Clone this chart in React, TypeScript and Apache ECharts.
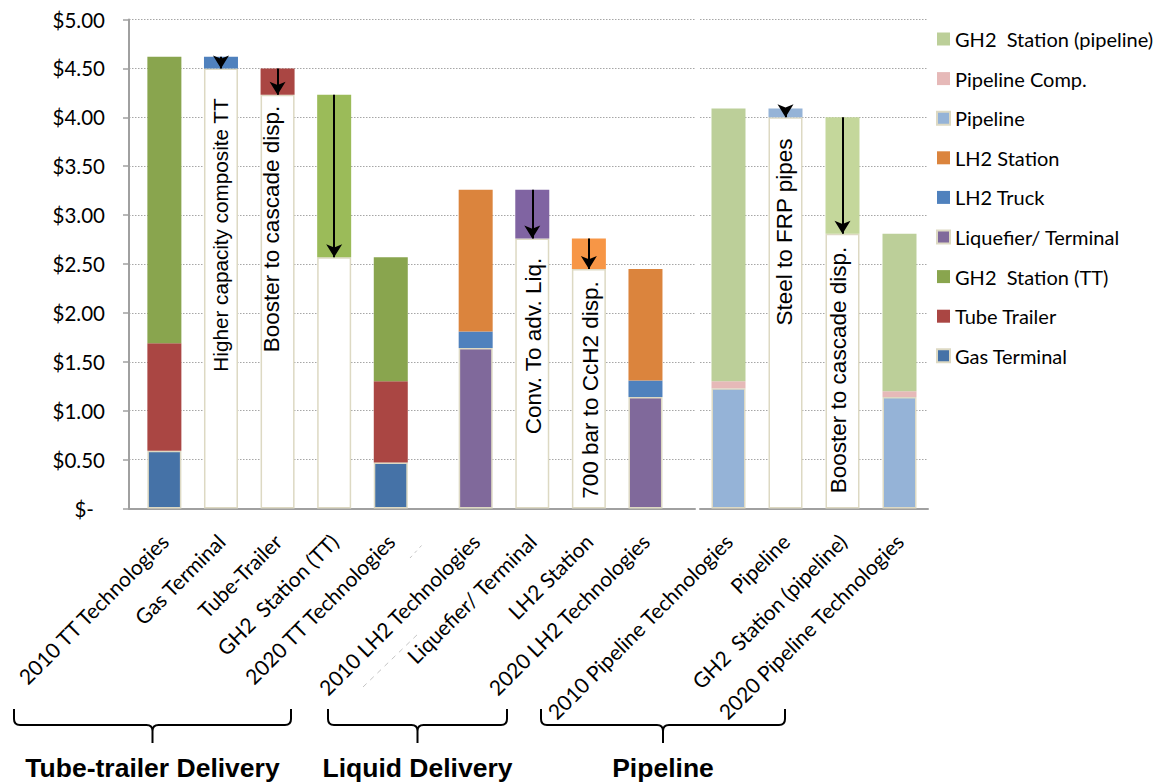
import React, { useEffect, useRef } from 'react';
import * as echarts from 'echarts';

// ---- Tube-trailer delivery ($/kg) ----
const ttCategories = ['2010 TT Technologies', 'Gas Terminal', 'Tube-Trailer', 'GH2  Station (TT)', '2020 TT Technologies'];
const gasTerminal = [0.59, null, null, null, 0.47];
const tubeTrailer = [1.1, null, null, null, 0.83];
const gh2StationTT = [2.93, null, null, null, 1.27];
const ttStepBase = [null, 4.5, 4.23, 2.57, null];
const ttStepDrop = [null, 0.12, 0.27, 1.66, null];

// ---- Liquid delivery ----
const lh2Categories = ['2010 LH2 Technologies', 'Liquefier/ Terminal', 'LH2 Station', '2020 LH2 Technologies'];
const liquefier = [1.64, null, null, 1.14];
const lh2Truck = [0.17, null, null, 0.17];
const lh2Station = [1.45, null, null, 1.14];
const lh2StepBase = [null, 2.76, 2.45, null];
const lh2StepDrop = [null, 0.5, 0.31, null];

// ---- Pipeline delivery ----
const pipeCategories = ['2010 Pipeline Technologies', 'Pipeline', 'GH2  Station (pipeline)', '2020 Pipeline Technologies'];
const pipeline = [1.23, null, null, 1.14];
const pipelineComp = [0.07, null, null, 0.06];
const gh2StationPipe = [2.79, null, null, 1.61];
const pipeStepBase = [null, 4.0, 2.81, null];
const pipeStepDrop = [null, 0.09, 1.19, null];

// cost axis
const Y_MIN = 0;
const Y_MAX = 5;
const Y_STEP = 0.5;

const legendOrder = [
  'GH2  Station (pipeline)',
  'Pipeline Comp.',
  'Pipeline',
  'LH2 Station',
  'LH2 Truck',
  'Liquefier/ Terminal',
  'GH2  Station (TT)',
  'Tube Trailer',
  'Gas Terminal',
];

const SERIES_COLORS: Record<string, string> = {
  'Gas Terminal': '#4572A7',
  'Tube Trailer': '#AA4643',
  'GH2  Station (TT)': '#89A54E',
  'Liquefier/ Terminal': '#80699B',
  'LH2 Truck': '#4F81BD',
  'LH2 Station': '#DB843D',
  Pipeline: '#95B3D7',
  'Pipeline Comp.': '#E6B9B8',
  'GH2  Station (pipeline)': '#BCCF99',
};

const STEP_COLORS: Record<string, string> = {
  'Gas Terminal': '#4F81BD',
  'Tube-Trailer': '#AA4643',
  'GH2  Station (TT)': '#9BBB59',
  'Liquefier/ Terminal': '#8064A2',
  'LH2 Station': '#F79646',
  Pipeline: '#95B3D7',
  'GH2  Station (pipeline)': '#C4D79B',
};

const FONT = 'Lato, "Noto Sans", sans-serif';
const ARIAL = '"Liberation Sans", Arial, sans-serif';
const BEIGE = '#DDD9C3';
const AXIS_GRAY = '#a0a0a0';

// left panel uses narrow slots so the two groups can sit closer than a full bar step
const LEFT_SLOTS = 40;
const SLOT_LEAD = 2;
const SLOT_STEP = 4;
const GROUP_STEP = 6;

function spreadLeft<T>(tt: (T | null)[], lh2: (T | null)[]): (T | null)[] {
  const out: (T | null)[] = new Array(LEFT_SLOTS).fill(null);
  let pos = SLOT_LEAD;
  [tt, lh2].forEach((g) => {
    g.forEach((v, i) => {
      out[pos] = v;
      if (i < g.length - 1) pos += SLOT_STEP;
    });
    pos += GROUP_STEP;
  });
  return out;
}

const blank = (arr: any[]) => arr.map(() => null);
const dash = (arr: any[]) => arr.map((v) => (v == null ? '-' : v));

const leftCats = spreadLeft<string>(ttCategories, lh2Categories).map((c) => c ?? '');
const leftVals = (tt: any[], lh2: any[]) => dash(spreadLeft(tt, lh2));

function bar(name: string, data: any[], axis: number, bordered = false) {
  return {
    type: 'bar',
    name,
    xAxisIndex: axis,
    yAxisIndex: axis,
    stack: 'cost' + axis,
    barWidth: 34,
    silent: true,
    data,
    itemStyle: {
      color: SERIES_COLORS[name],
      borderColor: bordered ? BEIGE : undefined,
      borderWidth: bordered ? 1.5 : 0,
    },
  };
}

function baseSeries(data: any[], axis: number) {
  return {
    type: 'bar',
    name: 'base' + axis,
    xAxisIndex: axis,
    yAxisIndex: axis,
    stack: 'cost' + axis,
    barWidth: 34,
    silent: true,
    data,
    itemStyle: { color: '#ffffff', borderColor: BEIGE, borderWidth: 1.5 },
  };
}

function arrows(cats: string[], base: (number | null)[], drop: (number | null)[]) {
  const out: any[] = [];
  cats.forEach((c, i) => {
    const b = base[i];
    const d = drop[i];
    if (b == null || d == null) return;
    out.push([{ coord: [c, b + d] }, { coord: [c, b] }]);
  });
  return out;
}

function stepSeries(cats: string[], drops: any[], lines: any[], axis: number) {
  return {
    type: 'bar',
    name: 'step' + axis,
    xAxisIndex: axis,
    yAxisIndex: axis,
    stack: 'cost' + axis,
    barWidth: 34,
    silent: true,
    data: drops.map((v, i) =>
      v === '-' ? '-' : { value: v, itemStyle: { color: STEP_COLORS[cats[i]] } }
    ),
    markLine: {
      silent: true,
      symbol: ['none', 'arrow'],
      symbolSize: [12, 13],
      label: { show: false },
      lineStyle: { color: '#000', width: 2, type: 'solid' },
      emphasis: { disabled: true },
      data: lines,
    },
  };
}

const xAxisBase = {
  type: 'category',
  axisTick: { show: false },
  axisLine: { lineStyle: { color: AXIS_GRAY, width: 2 } },
  axisLabel: {
    interval: 0,
    rotate: 45,
    margin: 29,
    color: '#000',
    fontFamily: FONT,
    fontSize: 21,
  },
};

const yAxisBase = {
  type: 'value',
  min: Y_MIN,
  max: Y_MAX,
  interval: Y_STEP,
  splitLine: { show: true, lineStyle: { color: '#a6a6a6', type: [1.5, 1.5], width: 1 } },
};

// brace outline: ends drop to a rounded corner, centre has a short stem
function bracePath(w: number) {
  const h = 16;
  const r = 6;
  const m = w / 2;
  return (
    `M0 0 L0 ${h - r} Q0 ${h} ${r} ${h} L${m - r} ${h} Q${m} ${h} ${m} ${h + r} L${m} ${h + 18} ` +
    `M${m} ${h + r} Q${m} ${h} ${m + r} ${h} L${w - r} ${h} Q${w} ${h} ${w} ${h - r} L${w} 0`
  );
}
const BRACES = [
  { name: 'braceTT', x: 14, w: 277, title: 'Tube-trailer Delivery' },
  { name: 'braceLiq', x: 328, w: 179, title: 'Liquid Delivery' },
  { name: 'bracePipe', x: 541, w: 244, title: 'Pipeline' },
];
BRACES.forEach((b) => {
  echarts.graphic.registerShape(b.name, (echarts.graphic as any).extendPath(bracePath(b.w), {}));
});

const NOTES = [
  { text: 'Higher capacity composite TT', x: 220.5, y: 235, size: 20.7 },
  { text: 'Booster to cascade disp.', x: 271, y: 229, size: 22.5 },
  { text: 'Conv. To adv. Liq.', x: 533, y: 346, size: 22.5 },
  { text: '700 bar to CcH2 disp.', x: 590.5, y: 390, size: 22.5 },
  { text: 'Steel to FRP pipes', x: 784, y: 232, size: 22.5 },
  { text: 'Booster to cascade disp.', x: 838, y: 370, size: 22.5 },
];

function buildOption() {
  const graphics: any[] = [];
  NOTES.forEach((n) => {
    graphics.push({
      type: 'text',
      x: n.x,
      y: n.y,
      rotation: Math.PI / 2,
      silent: true,
      z: 100,
      style: {
        text: n.text,
        fill: '#000',
        font: `${n.size}px ${ARIAL}`,
        textAlign: 'center',
        textVerticalAlign: 'middle',
        align: 'center',
        verticalAlign: 'middle',
      },
    });
  });
  BRACES.forEach((b) => {
    graphics.push({
      type: b.name,
      x: b.x,
      y: 709,
      silent: true,
      style: { stroke: '#000', lineWidth: 2, fill: 'none' },
    });
    graphics.push({
      type: 'text',
      x: b.x + b.w / 2,
      y: 768,
      silent: true,
      style: {
        text: b.title,
        fill: '#000',
        font: `bold 26.5px ${ARIAL}`,
        textAlign: 'center',
        textVerticalAlign: 'middle',
        align: 'center',
        verticalAlign: 'middle',
      },
    });
  });
  // faint leftover marks under the empty gap between the first two groups
  graphics.push({
    type: 'line',
    silent: true,
    shape: { x1: 363, y1: 687, x2: 420, y2: 632 },
    style: { stroke: '#c4c4c4', lineWidth: 1, lineDash: [5, 5] },
  });
  graphics.push({
    type: 'line',
    silent: true,
    shape: { x1: 410, y1: 558, x2: 422, y2: 545 },
    style: { stroke: '#c4c4c4', lineWidth: 1, lineDash: [3, 4] },
  });

  return {
    animation: false,
    backgroundColor: '#ffffff',
    grid: [
      { left: 129, top: 19.5, width: 566, height: 489 },
      { left: 700, top: 19.5, width: 228, height: 489 },
    ],
    legend: {
      orient: 'vertical',
      left: 931,
      top: 24,
      itemWidth: 13,
      itemHeight: 13,
      itemGap: 19.6,
      icon: 'rect',
      selectedMode: false,
      data: legendOrder,
      textStyle: { color: '#000', fontFamily: FONT, fontSize: 20 },
    },
    xAxis: [
      { ...xAxisBase, gridIndex: 0, data: leftCats },
      { ...xAxisBase, gridIndex: 1, data: pipeCategories },
    ],
    yAxis: [
      {
        ...yAxisBase,
        gridIndex: 0,
        axisLine: { show: true, lineStyle: { color: AXIS_GRAY, width: 2 } },
        axisTick: { show: true, length: 6, lineStyle: { color: AXIS_GRAY, width: 1.5 } },
        axisLabel: {
          margin: 24,
          color: '#000',
          fontFamily: FONT,
          fontSize: 20.5,
          formatter: (v: number) => (v === 0 ? '{z|$-}' : '$' + v.toFixed(2)),
          rich: { z: { fontFamily: FONT, fontSize: 20.5, color: '#000', padding: [0, 11, 0, 0] } },
        },
      },
      {
        ...yAxisBase,
        gridIndex: 1,
        axisLine: { show: false },
        axisTick: { show: false },
        axisLabel: { show: false },
      },
    ],
    series: [
      bar('Gas Terminal', leftVals(gasTerminal, blank(lh2Categories)), 0, true),
      bar('Tube Trailer', leftVals(tubeTrailer, blank(lh2Categories)), 0),
      bar('GH2  Station (TT)', leftVals(gh2StationTT, blank(lh2Categories)), 0),
      bar('Liquefier/ Terminal', leftVals(blank(ttCategories), liquefier), 0, true),
      bar('LH2 Truck', leftVals(blank(ttCategories), lh2Truck), 0),
      bar('LH2 Station', leftVals(blank(ttCategories), lh2Station), 0),
      baseSeries(leftVals(ttStepBase, lh2StepBase), 0),
      stepSeries(
        leftCats,
        leftVals(ttStepDrop, lh2StepDrop),
        [...arrows(ttCategories, ttStepBase, ttStepDrop), ...arrows(lh2Categories, lh2StepBase, lh2StepDrop)],
        0
      ),
      bar('Pipeline', dash(pipeline), 1, true),
      bar('Pipeline Comp.', dash(pipelineComp), 1),
      bar('GH2  Station (pipeline)', dash(gh2StationPipe), 1),
      baseSeries(dash(pipeStepBase), 1),
      stepSeries(pipeCategories, dash(pipeStepDrop), arrows(pipeCategories, pipeStepBase, pipeStepDrop), 1),
    ],
    graphic: graphics,
  };
}

export default function App() {
  const ref = useRef<HTMLDivElement>(null);
  useEffect(() => {
    if (!ref.current) return;
    const chart = echarts.init(ref.current, undefined, { renderer: 'svg' });
    chart.setOption(buildOption() as any);
    return () => chart.dispose();
  }, []);
  return (
    <div
      ref={ref}
      style={{ position: 'absolute', left: 0, top: 0, width: 1156, height: 782, background: '#fff' }}
    />
  );
}
